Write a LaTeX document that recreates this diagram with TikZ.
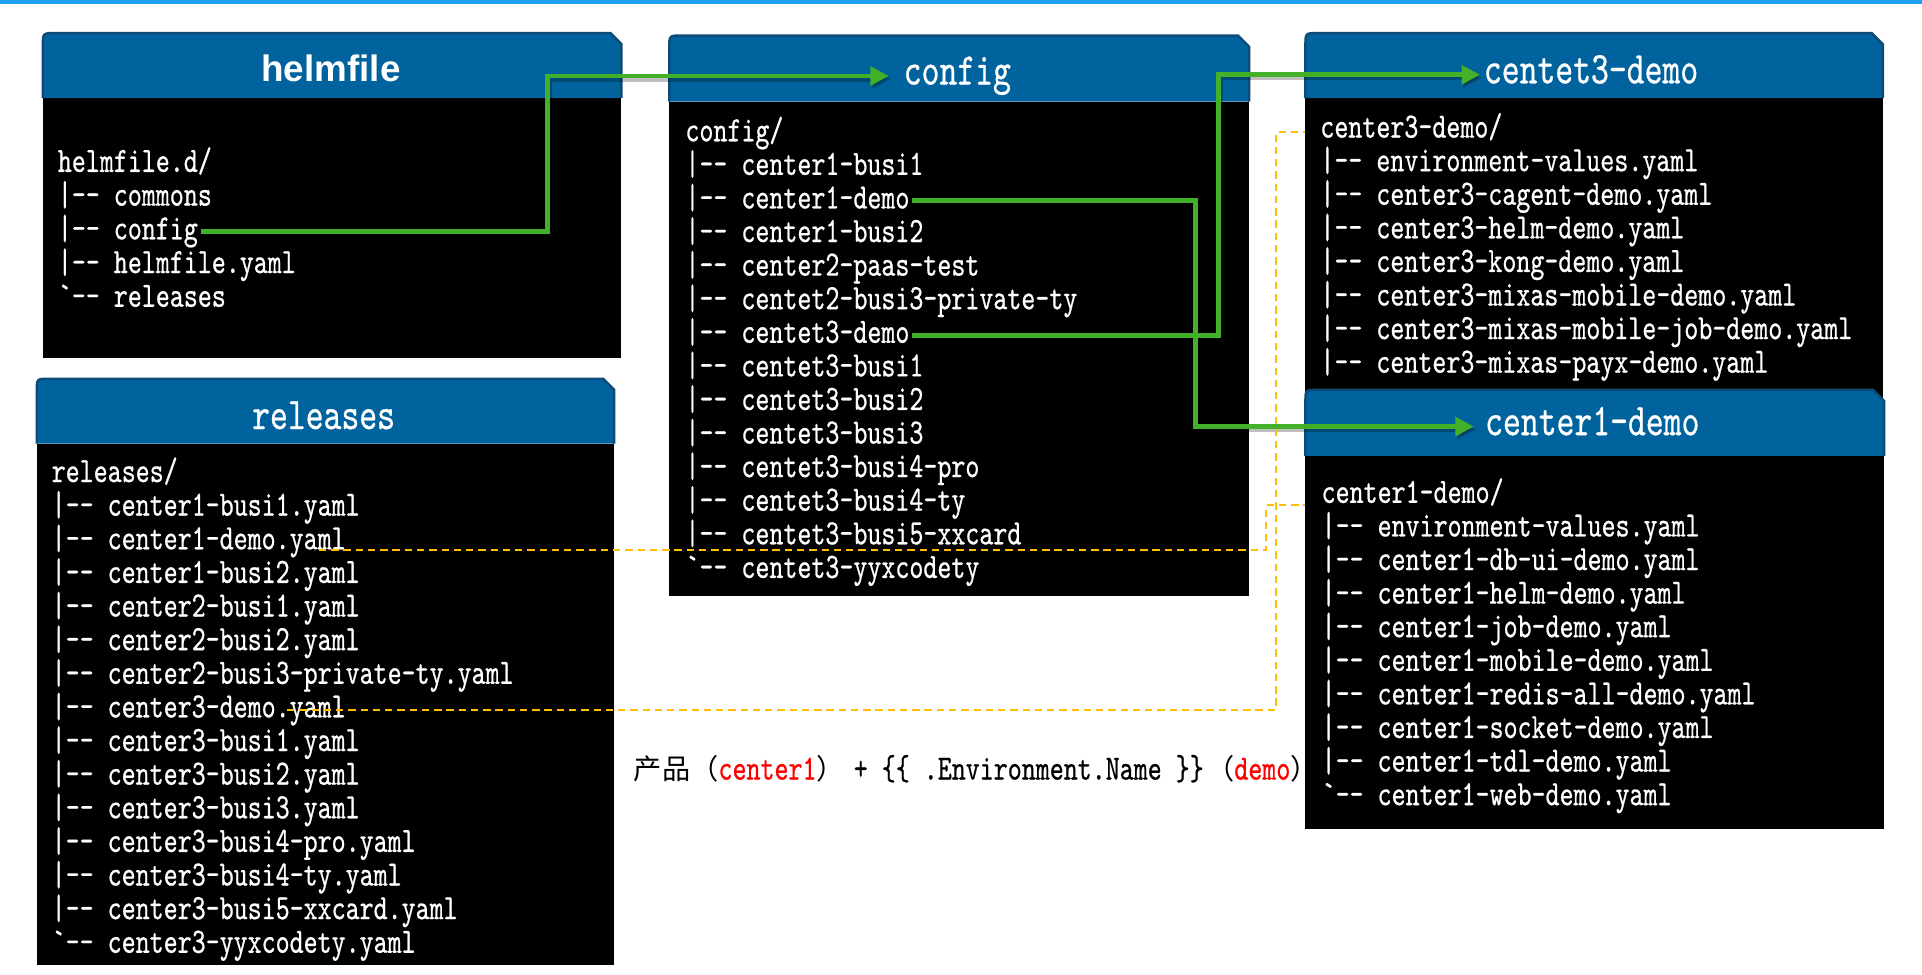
\documentclass[tikz,border=0pt]{standalone}
\usepackage{fontspec}
\setmonofont{lmmono10-regular.otf}[FakeStretch=0.75, FakeBold=0.6]
\newfontfamily\cjkfont{Noto Sans CJK SC}
\newfontfamily\hsans{Liberation Sans}
\usetikzlibrary{arrows.meta}
\definecolor{topblue}{RGB}{28,160,240}
\definecolor{hdrblue}{RGB}{0,99,158}
\definecolor{hdrdark}{RGB}{12,75,120}
\definecolor{linkgreen}{RGB}{67,176,42}
\definecolor{dashgold}{RGB}{255,190,0}
\definecolor{mred}{RGB}{255,0,0}
\newcommand{\zh}[1]{{\cjkfont\fontsize{23}{26}\selectfont #1}}
\tikzset{
  codeline/.style={anchor=west, inner sep=2pt, text=white, font=\ttfamily\fontsize{29}{32}\selectfont, text height=19pt, text depth=6.5pt},
  titlemono/.style={inner sep=2pt, text=white, font=\ttfamily\fontsize{37}{42}\selectfont, text height=22.5pt, text depth=8.5pt},
  titlesans/.style={inner sep=2pt, text=white, font=\hsans\bfseries\fontsize{30}{34}\selectfont},
  link/.style={draw=linkgreen, line width=4pt, -{Triangle[length=15pt,width=15pt]}},
  linkshadow/.style={link, draw=black, opacity=0.25, transform canvas={shift={(1.5pt,-2.5pt)}}},
  reflink/.style={draw=dashgold, line width=1.6pt, dash pattern=on 6pt off 4pt},
  panelbody/.style={fill=black},
  panelhead/.style={fill=hdrblue},
  paneledge/.style={draw=hdrdark, line width=2pt},
}
\newcommand{\dirpanel}[5]{%
  \fill[panelbody] (#1,#5) rectangle (#3,#4);
  \fill[panelhead] (#1,#5) -- (#1,#2+10) .. controls (#1,#2) .. (#1+10,#2) -- (#3-9,#2) -- (#3,#2+9) -- (#3,#5) -- cycle;
  \draw[paneledge] (#1,#5) -- (#1,#2+10) .. controls (#1,#2) .. (#1+10,#2) -- (#3-9,#2) -- (#3,#2+9) -- (#3,#5);
}
\begin{document}
\begin{tikzpicture}[x=1pt, y=-1pt]
\useasboundingbox (0,0) rectangle (1568,795);
\fill[topblue] (0,0) rectangle (1568,3);

% panels
\dirpanel{35}{27}{507}{292}{80}
\dirpanel{546}{29}{1019}{486}{83}
\dirpanel{30}{309}{501}{787}{362}
\dirpanel{1065}{27}{1536}{565}{80}

% titles
\node[titlesans] (hT) at (270,56) {helmfile};
\node[titlemono] (cfgT) at (781,62) {config};
\node[titlemono] (relT) at (264,343) {releases};
\node[titlemono] (c3T) at (1298,61) {centet3-demo};

% helmfile listing
\foreach \t [count=\i] in {helmfile.d/, |-- commons, |-- config, |-- helmfile.yaml, `-- releases}
  \node[codeline] (h-\i) at (45, {134+27.5*(\i-1)}) {\t};

% config listing
\foreach \t [count=\i] in {config/, |-- center1-busi1, |-- center1-demo, |-- center1-busi2, |-- center2-paas-test, |-- centet2-busi3-private-ty, |-- centet3-demo, |-- centet3-busi1, |-- centet3-busi2, |-- centet3-busi3, |-- centet3-busi4-pro, |-- centet3-busi4-ty, |-- centet3-busi5-xxcard, `-- centet3-yyxcodety}
  \node[codeline] (cfg-\i) at (557, {109+27.4*(\i-1)}) {\t};

% releases listing
\foreach \t [count=\i] in {releases/, |-- center1-busi1.yaml, |-- center1-demo.yaml, |-- center1-busi2.yaml, |-- center2-busi1.yaml, |-- center2-busi2.yaml, |-- center2-busi3-private-ty.yaml, |-- center3-demo.yaml, |-- center3-busi1.yaml, |-- center3-busi2.yaml, |-- center3-busi3.yaml, |-- center3-busi4-pro.yaml, |-- center3-busi4-ty.yaml, |-- center3-busi5-xxcard.yaml, `-- center3-yyxcodety.yaml}
  \node[codeline] (rel-\i) at (40, {387+27.43*(\i-1)}) {\t};

% centet3-demo listing
\foreach \t [count=\i] in {center3-demo/, |-- environment-values.yaml, |-- center3-cagent-demo.yaml, |-- center3-helm-demo.yaml, |-- center3-kong-demo.yaml, |-- center3-mixas-mobile-demo.yaml, |-- center3-mixas-mobile-job-demo.yaml, |-- center3-mixas-payx-demo.yaml}
  \node[codeline] (c3-\i) at (1075, {106+27.4*(\i-1)}) {\t};

% center1-demo panel (on top)
\dirpanel{1065}{318}{1537}{676}{372}
\node[titlemono] (c1T) at (1299,348) {center1-demo};
\foreach \t [count=\i] in {center1-demo/, |-- environment-values.yaml, |-- center1-db-ui-demo.yaml, |-- center1-helm-demo.yaml, |-- center1-job-demo.yaml, |-- center1-mobile-demo.yaml, |-- center1-redis-all-demo.yaml, |-- center1-socket-demo.yaml, |-- center1-tdl-demo.yaml, `-- center1-web-demo.yaml}
  \node[codeline] (c1-\i) at (1076, {404+27.4*(\i-1)}) {\t};

% formula
\node[anchor=base west, inner sep=0pt, font=\ttfamily\fontsize{29}{32}\selectfont] (formula) at (517,636)
  {\zh{产品（}\textcolor{mred}{center1}\zh{）}\kern-4pt{} + \{\{ .Environment.Name \}\}\kern2pt\zh{（}\textcolor{mred}{demo}\zh{）}\kern-10pt};

% bend coordinates
\coordinate (k1) at (447,0);
\coordinate (k2) at (975,0);
\coordinate (k3) at (994,0);
\coordinate (kA) at (1033,0);
\coordinate (kB) at (1041,0);
\coordinate (c1end) at ([xshift=-11pt,yshift=-8pt]c1-1.west);
\coordinate (c3end) at ([xshift=-10pt,yshift=-2pt]c3-1.west);

% green link shadows
\draw[linkshadow, shorten >=10pt] (h-3.east) -| (k1 |- cfgT.west) -- (cfgT.west);
\draw[linkshadow, shorten >=7pt] (cfg-3.east) -| (k2 |- c1T.west) -- (c1T.west);
\draw[linkshadow, shorten >=1pt] (cfg-7.east) -| (k3 |- c3T.west) -- (c3T.west);
% green links
\draw[link, shorten >=10pt] (h-3.east) -| (k1 |- cfgT.west) -- (cfgT.west);
\draw[link, shorten >=7pt] (cfg-3.east) -| (k2 |- c1T.west) -- (c1T.west);
\draw[link, shorten >=1pt] (cfg-7.east) -| (k3 |- c3T.west) -- (c3T.west);

% dashed references
\draw[reflink] ([xshift=-24pt,yshift=-7pt]rel-3.east) -| (kA |- c1end) -- (c1end);
\draw[reflink] ([xshift=-50pt]rel-8.east) -| (kB |- c3end) -- (c3end);
\end{tikzpicture}
\end{document}
